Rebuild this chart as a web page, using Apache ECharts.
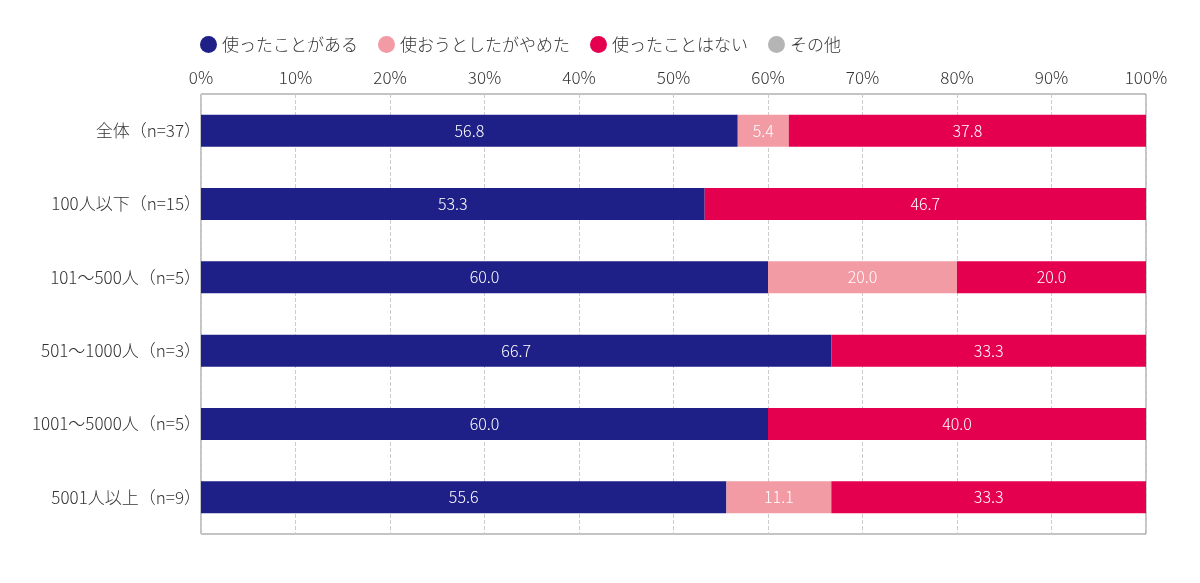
<!DOCTYPE html>
<html>
<head>
<meta charset="utf-8">
<script src="https://cdn.jsdelivr.net/npm/echarts@6/dist/echarts.min.js"></script>
<style>
  html, body { margin: 0; padding: 0; background: #fff; }
  #main { width: 1200px; height: 583px; }
</style>
</head>
<body>
<div id="main"></div>
<script>
// カテゴリ（上から順）
var categories = ['全体（n=37）', '100人以下（n=15）', '101〜500人（n=5）', '501〜1000人（n=3）', '1001〜5000人（n=5）', '5001人以上（n=9）'];
var seriesNames = ['使ったことがある', '使おうとしたがやめた', '使ったことはない', 'その他'];

var usedValues = [56.8, 53.3, 60.0, 66.7, 60.0, 55.6];
var quitValues = [5.4, 0, 20.0, 0, 0, 11.1];
var neverValues = [37.8, 46.7, 20.0, 33.3, 40.0, 33.3];
var otherValues = [0, 0, 0, 0, 0, 0];

var colors = ['#1e2087', '#f29ba5', '#e4004f', '#b5b5b5'];
var fontFamily = '"Noto Sans CJK JP", "Noto Sans", sans-serif';

var myChart = echarts.init(document.getElementById('main'));

function makeSeries(name, values, color) {
  return {
    name: name,
    type: 'bar',
    stack: 'total',
    barWidth: 32,
    data: values.map(function (v) { return v === 0 ? null : v; }),
    itemStyle: { color: color },
    label: {
      show: true,
      position: 'inside',
      color: '#fff',
      fontSize: 16,
      fontWeight: 300,
      fontFamily: fontFamily,
      formatter: function (p) { return p.value.toFixed(1); }
    }
  };
}

var option = {
  backgroundColor: '#fff',
  animation: false,
  textStyle: { fontFamily: fontFamily },
  legend: {
    top: 31,
    left: 195,
    itemWidth: 17,
    itemHeight: 17,
    itemGap: 20,
    icon: 'circle',
    textStyle: { fontSize: 17, fontWeight: 300, color: '#333', fontFamily: fontFamily },
    data: seriesNames
  },
  grid: {
    left: 201,
    right: 54,
    top: 94,
    bottom: 49,
    show: true,
    borderColor: '#888',
    borderWidth: 1
  },
  xAxis: {
    type: 'value',
    position: 'top',
    min: 0,
    max: 100,
    interval: 10,
    axisLine: { show: false },
    axisTick: { show: false },
    axisLabel: {
      formatter: '{value}%',
      fontSize: 17,
      fontWeight: 300,
      color: '#333',
      margin: 8,
      fontFamily: fontFamily
    },
    splitLine: { lineStyle: { type: 'dashed', color: '#ccc' } }
  },
  yAxis: {
    type: 'category',
    inverse: true,
    data: categories,
    axisLine: { show: false },
    axisTick: { show: false },
    axisLabel: {
      fontSize: 17,
      fontWeight: 300,
      color: '#333',
      margin: 0,
      fontFamily: fontFamily
    }
  },
  series: [
    makeSeries(seriesNames[0], usedValues, colors[0]),
    makeSeries(seriesNames[1], quitValues, colors[1]),
    makeSeries(seriesNames[2], neverValues, colors[2]),
    makeSeries(seriesNames[3], otherValues, colors[3])
  ]
};

myChart.setOption(option);
</script>
</body>
</html>
